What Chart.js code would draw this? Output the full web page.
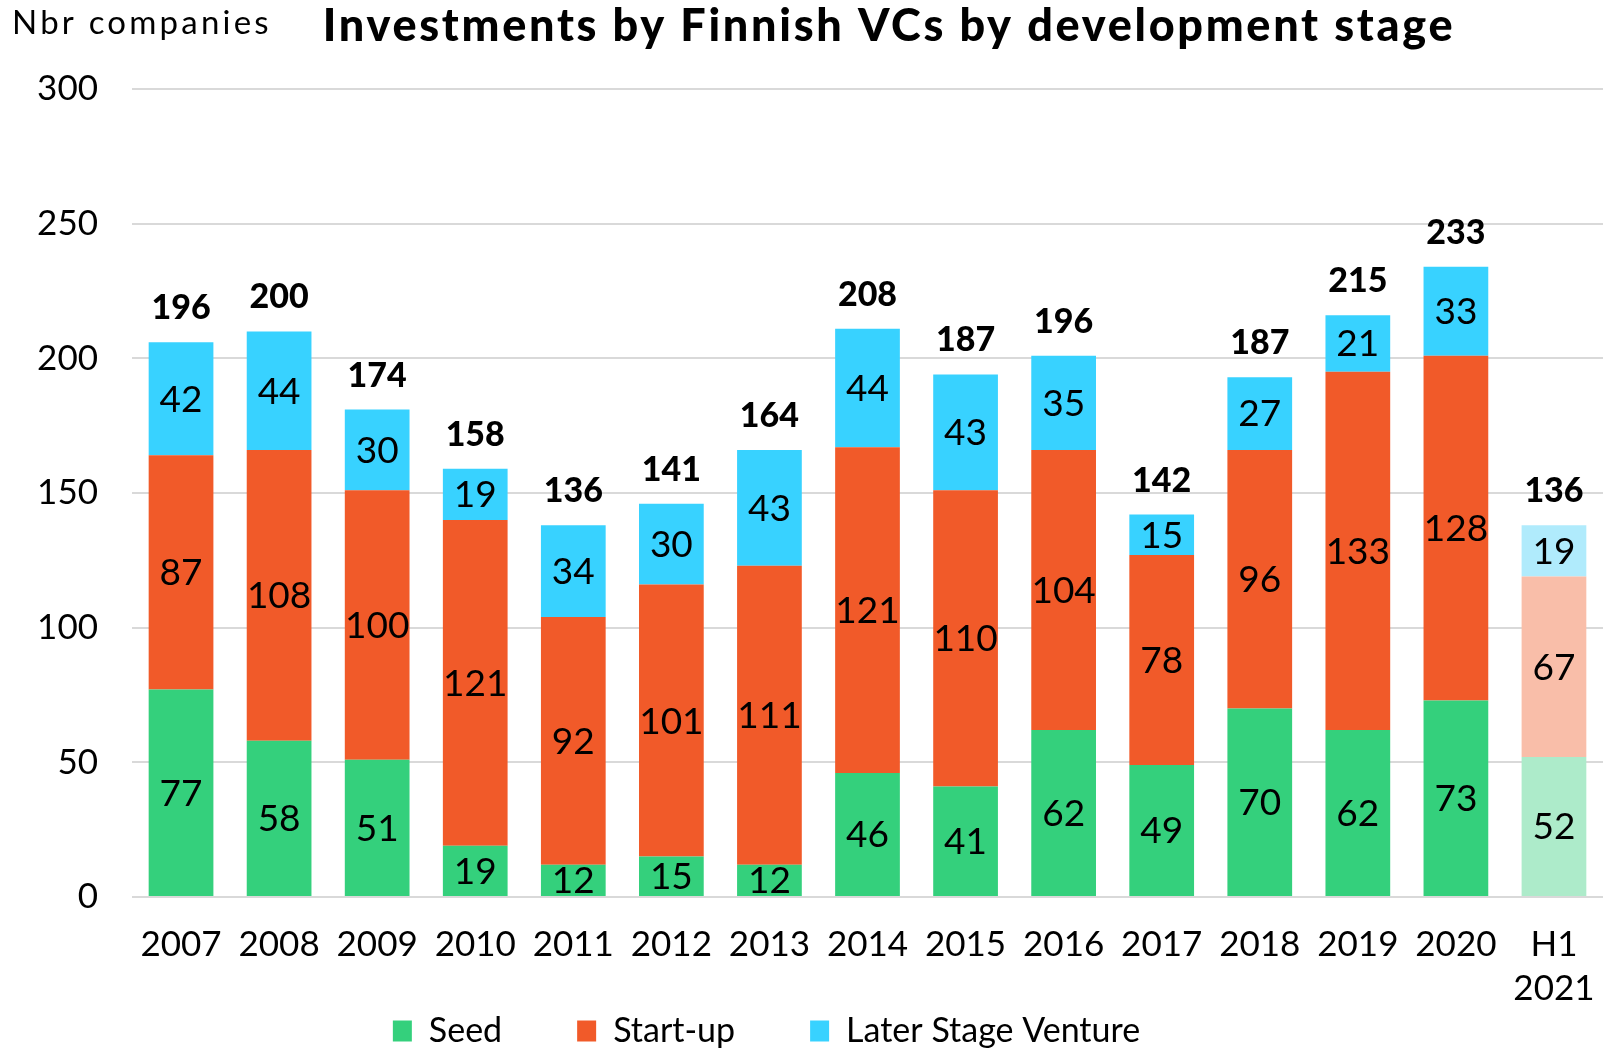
<!DOCTYPE html>
<html>
<head>
<meta charset="utf-8">
<script src="https://cdn.jsdelivr.net/npm/chart.js@4.4.1/dist/chart.umd.min.js"></script>
<style>
  html, body { margin: 0; padding: 0; background: #fff; }
  #wrap { width: 1618px; height: 1052px; }
</style>
</head>
<body>
<div id="wrap"><canvas id="chart" width="1618" height="1052"></canvas></div>
<script>
const years = ['2007', '2008', '2009', '2010', '2011', '2012', '2013', '2014', '2015', '2016', '2017', '2018', '2019', '2020', ['H1', '2021']];
const seed = [77, 58, 51, 19, 12, 15, 12, 46, 41, 62, 49, 70, 62, 73, 52];
const startUp = [87, 108, 100, 121, 92, 101, 111, 121, 110, 104, 78, 96, 133, 128, 67];
const laterStage = [42, 44, 30, 19, 34, 30, 43, 44, 43, 35, 15, 27, 21, 33, 19];
const totals = [196, 200, 174, 158, 136, 141, 164, 208, 187, 196, 142, 187, 215, 233, 136];
const yTicks = [0, 50, 100, 150, 200, 250, 300];

const FONT = 'Lato, "Noto Sans", sans-serif';
const lastIdx = years.length - 1;

// H1 2021 is drawn in paler shades
function shade(main, pale) {
  return years.map((_, i) => i === lastIdx ? pale : main);
}

// labels inside the segments, totals above, title texts
const labelPlugin = {
  id: 'labels',
  afterLayout(chart) {
    // legend padding gives the wide gaps between items, pull it back up
    const lg = chart.legend;
    const shift = lg.top - 939;
    lg.top -= shift;
    lg.bottom -= shift;
  },
  afterDatasetsDraw(chart) {
    const ctx = chart.ctx;
    ctx.save();
    ctx.fillStyle = '#000';
    ctx.textAlign = 'center';
    ctx.textBaseline = 'middle';
    ctx.font = '37px ' + FONT;
    chart.data.datasets.forEach((ds, di) => {
      chart.getDatasetMeta(di).data.forEach((bar, i) => {
        const mid = (bar.y + bar.base) / 2;
        ctx.fillText(String(ds.data[i]), bar.x, mid + 1);
      });
    });
    const top = chart.getDatasetMeta(2).data;
    ctx.font = '900 34px ' + FONT;
    ctx.textBaseline = 'alphabetic';
    top.forEach((bar, i) => {
      ctx.fillText(String(totals[i]), bar.x, bar.y - 23);
    });

    ctx.font = '900 45px ' + FONT;
    ctx.textBaseline = 'middle';
    ctx.letterSpacing = '2.7px';
    ctx.fillText('Investments by Finnish VCs by development stage', 889, 26);
    ctx.font = '33px ' + FONT;
    ctx.letterSpacing = '3.2px';
    ctx.textAlign = 'left';
    ctx.fillText('Nbr companies', 12, 23);
    ctx.restore();
  }
};

new Chart(document.getElementById('chart'), {
  type: 'bar',
  data: {
    labels: years,
    datasets: [
      { label: 'Seed', data: seed, backgroundColor: shade('#34D07C', '#ADEBCA') },
      { label: 'Start-up', data: startUp, backgroundColor: shade('#F15A29', '#F9BEA9') },
      { label: 'Later Stage Venture', data: laterStage, backgroundColor: shade('#38D2FF', '#B0EBFC') }
    ]
  },
  options: {
    responsive: false,
    animation: false,
    layout: { padding: { top: 89, right: 15, left: -70, bottom: -82 } },
    datasets: { bar: { categoryPercentage: 1, barPercentage: 0.66 } },
    plugins: {
      title: { display: false },
      tooltip: { enabled: false },
      legend: {
        position: 'bottom',
        labels: {
          color: '#000',
          font: { family: FONT, size: 34 },
          boxWidth: 19,
          boxHeight: 21,
          padding: 75,
          generateLabels(chart) {
            return chart.data.datasets.map((ds, i) => ({
              text: ds.label,
              fillStyle: ds.backgroundColor[0],
              strokeStyle: ds.backgroundColor[0],
              lineWidth: 0,
              datasetIndex: i
            }));
          }
        }
      }
    },
    scales: {
      x: {
        stacked: true,
        grid: { display: false },
        border: { display: false },
        ticks: {
          color: '#000',
          font: { family: FONT, size: 35, lineHeight: 1.25 },
          padding: 18,
          maxRotation: 0
        },
        afterFit(scale) { scale.height = 118; }
      },
      y: {
        stacked: true,
        min: 0,
        max: 300,
        afterBuildTicks(scale) { scale.ticks = yTicks.map(v => ({ value: v })); },
        grid: { color: '#D9D9D9', lineWidth: 2, drawTicks: false },
        border: { display: false },
        ticks: {
          color: '#000',
          font: { family: FONT, size: 35 },
          padding: 34
        },
        afterFit(scale) { scale.width = 202; }
      }
    }
  },
  plugins: [labelPlugin]
});
</script>
</body>
</html>
